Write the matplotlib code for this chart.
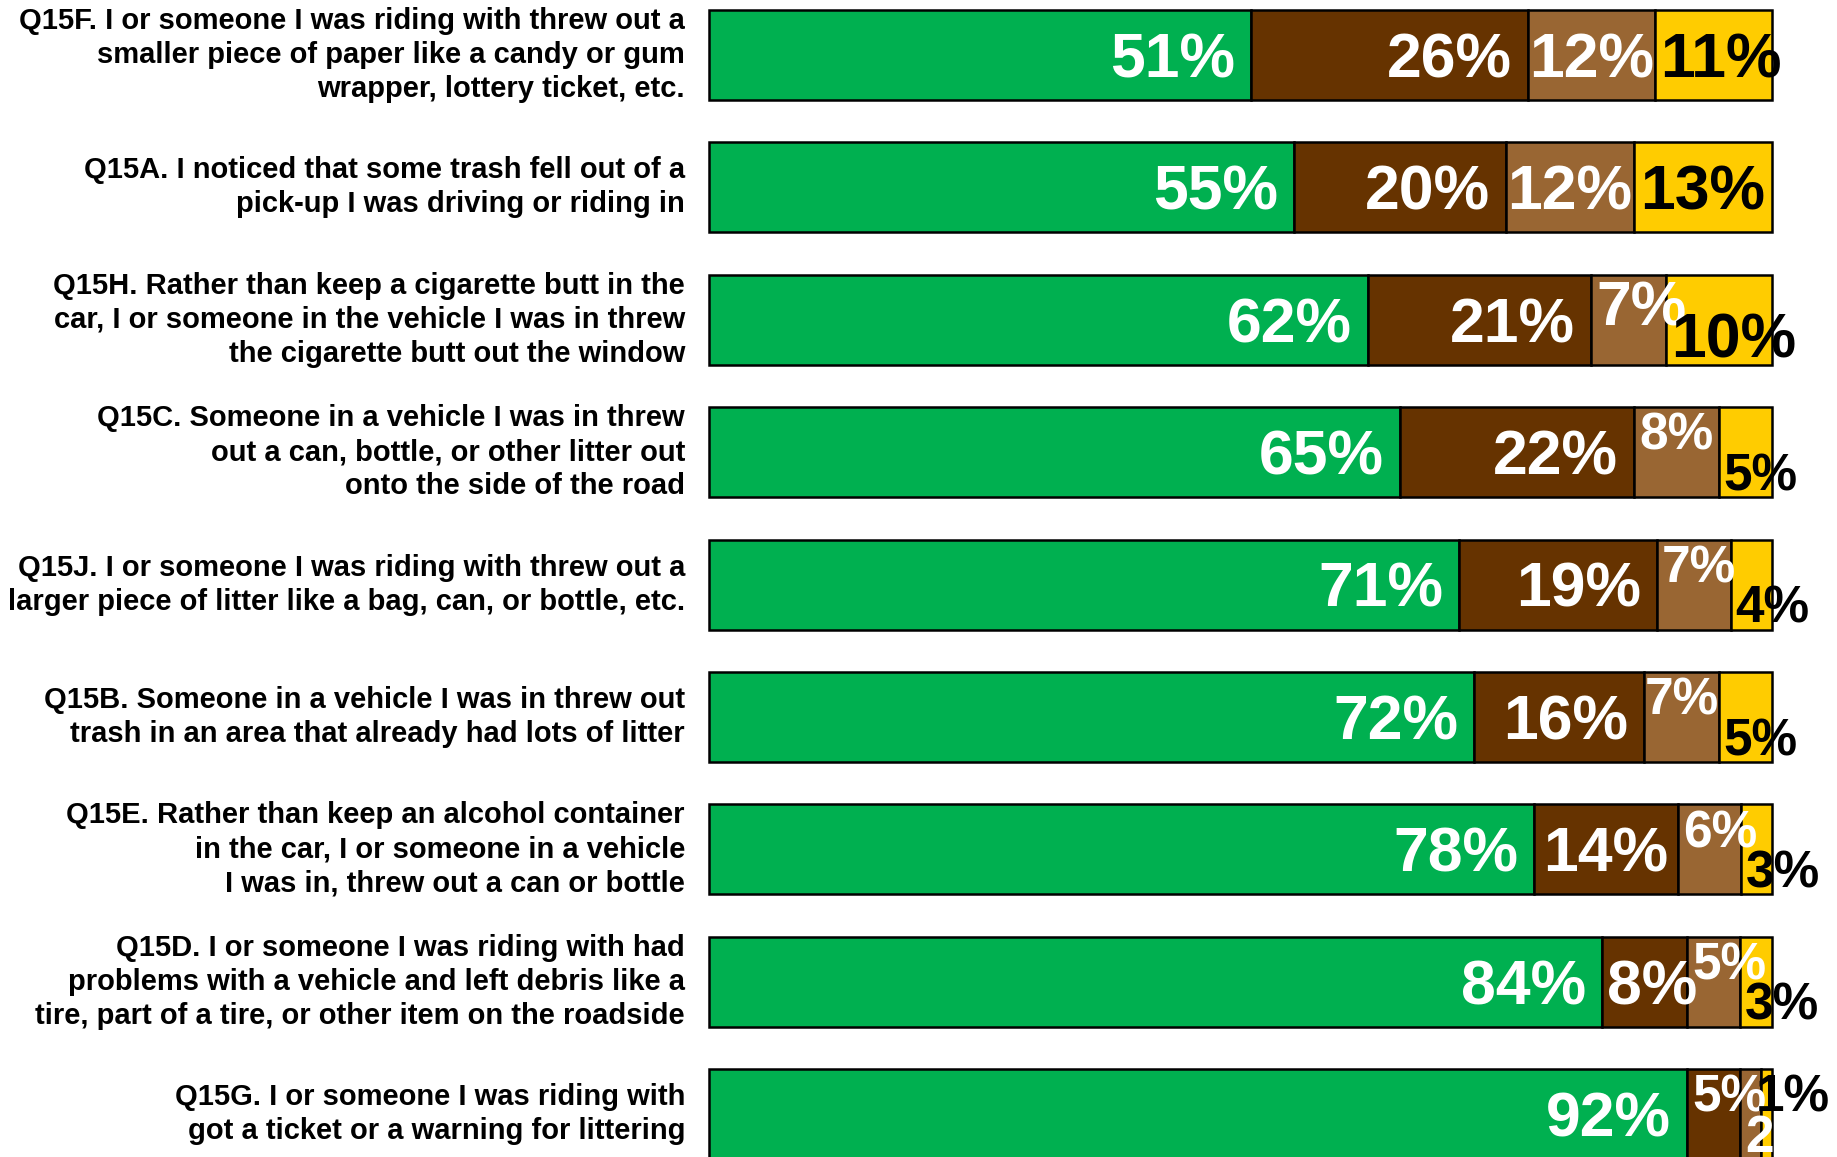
import numpy as np
import matplotlib
matplotlib.use("Agg")
import matplotlib.pyplot as plt
from matplotlib.font_manager import FontProperties

plt.rcParams["font.family"] = ["Liberation Sans", "DejaVu Sans"]

# ---- data, top to bottom
questions = [
    "Q15F. I or someone I was riding with threw out a\nsmaller piece of paper like a candy or gum\nwrapper, lottery ticket, etc.",
    "Q15A. I noticed that some trash fell out of a\npick-up I was driving or riding in",
    "Q15H. Rather than keep a cigarette butt in the\ncar, I or someone in the vehicle I was in threw\nthe cigarette butt out the window",
    "Q15C. Someone in a vehicle I was in threw\nout a can, bottle, or other litter out\nonto the side of the road",
    "Q15J. I or someone I was riding with threw out a\nlarger piece of litter like a bag, can, or bottle, etc.",
    "Q15B. Someone in a vehicle I was in threw out\ntrash in an area that already had lots of litter",
    "Q15E. Rather than keep an alcohol container\nin the car, I or someone in a vehicle\nI was in, threw out a can or bottle",
    "Q15D. I or someone I was riding with had\nproblems with a vehicle and left debris like a\ntire, part of a tire, or other item on the roadside",
    "Q15G. I or someone I was riding with\ngot a ticket or a warning for littering",
]
green = [51, 55, 62, 65, 70.6, 72, 77.6, 84, 92]
dark_brown = [26, 20, 21, 22, 18.6, 16, 13.6, 8, 5]
light_brown = [12, 12, 7, 8, 6.9, 7, 5.9, 5, 2]
yellow = [11, 13, 10, 5, 3.9, 5, 2.9, 3, 1]

colors = ["#00B050", "#663300", "#996633", "#FFCC00"]
text_colors = ["white", "white", "white", "black"]

# ---- layout in pixels
W, H = 1837, 1157
LEFT, RIGHT = 709, 1772
TOP0 = 10
PITCH = 132.4
BAR_PX = 90
BIG, SMALL = 45, 37
CAT_SIZE = 21

fig = plt.figure(figsize=(W / 100, H / 100), dpi=100)
ax = fig.add_axes([LEFT / W, 0, (RIGHT - LEFT) / W, 1])
c0 = TOP0 + BAR_PX / 2
ax.set_xlim(0, 100)
ax.set_ylim((H - c0) / PITCH, -c0 / PITCH)
ax.axis("off")

series = [green, dark_brown, light_brown, yellow]
n = len(questions)
y = np.arange(n)
left = np.zeros(n)
starts = []
for vals, col in zip(series, colors):
    starts.append(left.copy())
    ax.barh(y, vals, left=left, height=BAR_PX / PITCH, color=col,
            edgecolor="black", linewidth=1.8, clip_on=False)
    left += np.array(vals)

renderer = fig.canvas.get_renderer()
px = (RIGHT - LEFT) / 100
PAD = 16


def text_width(s, size):
    fp = FontProperties(family="Liberation Sans", weight="bold", size=size)
    w, h, d = renderer.get_text_width_height_descent(s, fp, ismath=False)
    return w


# ---- percentage labels
for i in range(n):
    last = i == n - 1
    for j, vals in enumerate(series):
        v = vals[i]
        x0 = starts[j][i]
        seg = v * px
        lab = f"{round(v)}%"
        small = (j >= 2 and v <= 8 and yellow[i] < 10) or (j == 1 and v < 8)
        size = SMALL if small else BIG
        tw = text_width(lab, size)
        cap = 0.716 * size * 100 / 72
        overflow = False
        if tw + 2 * PAD <= seg:
            x, dx, ha = x0 + v, -PAD, "right"
        elif tw <= seg:
            x, dx, ha = x0 + v / 2, 0, "center"
        else:
            x, dx, ha = x0, 5, "left"
            overflow = True

        if j == 2 and v < 10:
            mode = "b" if last else "t"
        elif j == 3 and v < 11:
            mode = "t" if last else "b"
        elif j == 1 and overflow and last:
            mode = "t"
        else:
            mode = "c"
        if last and j == 3:
            dx = -6
        half = BAR_PX / 2
        if mode == "c":
            dy = -cap / 2
        elif mode == "t":
            dy = half - 6 - cap
        else:
            dy = -(half - 7)

        ax.annotate(lab, xy=(x, i), xytext=(dx, dy), textcoords="offset pixels",
                    ha=ha, va="baseline", fontsize=size, fontweight="bold",
                    color=text_colors[j], annotation_clip=False)

# ---- category labels
for i, q in enumerate(questions):
    ax.annotate(q, xy=(0, i), xytext=(-(LEFT - 685), 0), textcoords="offset pixels",
                ha="right", va="center", multialignment="right",
                fontsize=CAT_SIZE, fontweight="bold", linespacing=1.27,
                annotation_clip=False)

fig.savefig("out.png", dpi=100)
